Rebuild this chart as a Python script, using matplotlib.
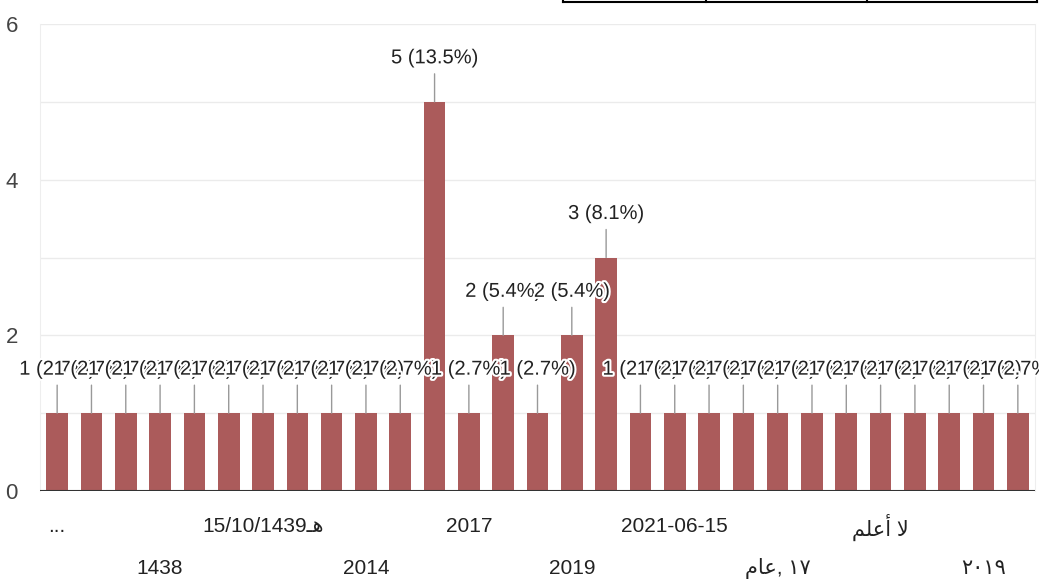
import matplotlib
matplotlib.use("Agg")
import matplotlib.pyplot as plt
import matplotlib.patheffects as pe
from matplotlib.lines import Line2D

# bar values, left to right
values = [1, 1, 1, 1, 1, 1, 1, 1, 1, 1, 1,
          5, 1, 2, 1, 2, 3,
          1, 1, 1, 1, 1, 1, 1, 1, 1, 1, 1, 1]

# category labels that are visible (every 3rd bar, two rows)
tick_pos = [0, 3, 6, 9, 12, 15, 18, 21, 24, 27]
tick_labels = [
    "...",
    "1438",
    "15/10/1439\u0640\uFEEB",          # 15/10/1439هـ
    "2014",
    "2017",
    "2019",
    "2021-06-15",
    "\uFEE1\uFE8E\uFECB, \u0661\u0667",  # عام, ١٧
    "\uFEE2\uFEE0\uFECB\uFE83 \uFEFB",   # لا أعلم
    "\u0662\u0660\u0661\u0669",          # ٢٠١٩
]

plt.rcParams['font.family'] = ['Liberation Sans Narrow', 'Liberation Sans', 'DejaVu Sans']

bar_color = "#ab5b5b"
total = sum(values)

fig = plt.figure(figsize=(10.39, 5.83), dpi=100)
ax = fig.add_axes([40 / 1039, 92 / 583, 995 / 1039, 467 / 583])

x = list(range(len(values)))
ax.bar(x, values, width=0.63, color=bar_color, zorder=2)

ax.set_xlim(-0.5, len(values) - 0.5)
ax.set_ylim(0, 6)
ax.set_yticks([0, 2, 4, 6])
ax.set_yticks([1, 3, 5], minor=True)
ax.grid(axis="y", which="both", color="#ebebeb", linewidth=1, zorder=0)
ax.tick_params(axis="y", which="both", length=0, pad=16, labelsize=16, labelcolor="#444444")
ax.set_xticks([])

for s in ["top", "bottom"]:
    ax.spines[s].set_visible(False)
for s in ["left", "right"]:
    ax.spines[s].set_color("#eeeeee")
ax.axhline(0, color="#333333", linewidth=1.5, zorder=3)

# annotations with leader lines and white aura
for i, v in enumerate(values):
    ax.annotate("", xy=(i, v), xytext=(0, 28), textcoords="offset pixels",
                arrowprops=dict(arrowstyle="-", color="#999999", lw=1,
                                shrinkA=0, shrinkB=0), zorder=4)
    ax.annotate(f"{v} ({v / total * 100:.1f}%)", xy=(i, v), xytext=(0, 44),
                textcoords="offset pixels", ha="center", va="center",
                fontsize=14.5, color="#222222", zorder=5 + i,
                path_effects=[pe.withStroke(linewidth=3, foreground="white")])

# two-row category labels
trans = ax.get_xaxis_transform()
for k, (p, lab) in enumerate(zip(tick_pos, tick_labels)):
    y = -0.077 if k % 2 == 0 else -0.165
    ax.text(p, y, lab, transform=trans, ha="center", va="center",
            fontsize=15, color="#222222")

# table border fragment at the top right of the screenshot
fy = 1 - 1.5 / 583
fig.add_artist(Line2D([563 / 1039, 1037 / 1039], [fy, fy], color="black", lw=1.5))
for px in [563, 706, 867, 1037]:
    fig.add_artist(Line2D([px / 1039, px / 1039], [fy, 1], color="black", lw=1.5))

fig.savefig("out.png", dpi=100)
